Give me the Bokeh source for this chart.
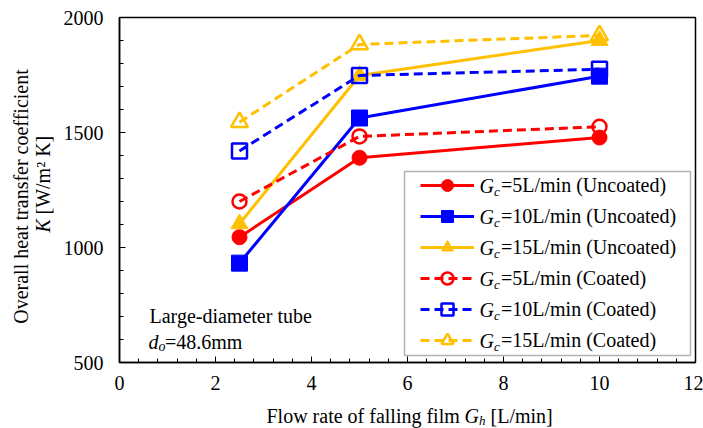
import math
from bokeh.plotting import figure
from bokeh.layouts import row, column
from bokeh.models import (Legend, LegendItem, Label, BoxAnnotation,
                          SingleIntervalTicker, ColumnDataSource)
from bokeh.embed import file_html
from bokeh.resources import INLINE

# ---- data ----
flow_rate = [2.5, 5, 10]
unc_5 = [1045, 1390, 1478]
unc_10 = [932, 1563, 1745]
unc_15 = [1103, 1748, 1900]
coat_5 = [1200, 1483, 1525]
coat_10 = [1420, 1748, 1775]
coat_15 = [1545, 1883, 1922]
legend_texts = ["=5L/min (Uncoated)", "=10L/min (Uncoated)", "=15L/min (Uncoated)",
                "=5L/min (Coated)", "=10L/min (Coated)", "=15L/min (Coated)"]

FONT = "Liberation Serif"
RED, BLUE, YEL = "#FF0000", "#0000FF", "#FFC000"

YL_W = 60          # width of the y-label strip
P_W, P_H = 643, 400
XL_H = 28
# frame in full-canvas coordinates: left 118, right 695, top 17, bottom 362

p = figure(width=P_W, height=P_H, x_range=(0, 12), y_range=(500, 2000),
           output_backend="svg", toolbar_location=None,
           min_border_left=118 - YL_W, min_border_right=8, min_border_top=17,
           min_border_bottom=P_H - 362)
p.background_fill_color = "white"
p.border_fill_color = "white"
p.outline_line_color = "black"
p.outline_line_width = 1.5
p.xgrid.visible = False
p.ygrid.visible = False

p.xaxis.ticker = SingleIntervalTicker(interval=2, num_minor_ticks=5)
p.yaxis.ticker = SingleIntervalTicker(interval=500, num_minor_ticks=5)
for ax in (p.xaxis[0], p.yaxis[0]):
    ax.axis_line_color = "black"
    ax.axis_line_width = 1.5
    ax.major_tick_in = 6
    ax.major_tick_out = 0
    ax.minor_tick_in = 4
    ax.minor_tick_out = 0
    ax.major_tick_line_color = "black"
    ax.minor_tick_line_color = "black"
    ax.major_label_text_font = FONT
    ax.major_label_text_font_size = "20px"
    ax.major_label_text_color = "black"
p.xaxis.major_label_standoff = 13
p.yaxis.major_label_standoff = 16

src = ColumnDataSource(dict(x=flow_rate, u5=unc_5, u10=unc_10, u15=unc_15,
                            c5=coat_5, c10=coat_10, c15=coat_15))

series = [
    ("u5", RED, "circle", 15, True),
    ("u10", BLUE, "square", 16, True),
    ("u15", YEL, "triangle", 17, True),
    ("c5", RED, "circle", 14, False),
    ("c10", BLUE, "square", 15, False),
    ("c15", YEL, "triangle", 17, False),
]
items = []
for (col, color, marker, size, filled), text in zip(series, legend_texts):
    dash = "solid" if filled else "9 5"
    lr = p.line("x", col, source=src, line_color=color, line_width=3, line_dash=dash)
    if filled:
        mr = p.scatter("x", col, source=src, marker=marker, size=size,
                       fill_color=color, line_color=color, line_width=1)
    else:
        mr = p.scatter("x", col, source=src, marker=marker, size=size,
                       fill_alpha=0, line_color=color, line_width=2.5)
    items.append(LegendItem(label=text, renderers=[lr, mr]))

legend = Legend(items=items, location=(301, 7), padding=0, spacing=1,
                glyph_width=54, glyph_height=30, label_height=30,
                label_standoff=27, label_text_font=FONT,
                label_text_font_size="20px", label_text_color="black",
                border_line_alpha=0, background_fill_alpha=0,
                margin=0)
p.add_layout(legend, "center")

# legend frame
p.add_layout(BoxAnnotation(left=285, right=571, bottom=7, top=191,
                           left_units="screen", right_units="screen",
                           bottom_units="screen", top_units="screen",
                           fill_alpha=0, line_color="black", line_width=1.5,
                           level="overlay"))


def lab(fig, left, bottom, x, y, text, size="20px", style="normal", align="left",
        baseline="alphabetic", angle=0):
    """x, y given in full-canvas pixels; left/bottom = fig frame origin in canvas."""
    fig.add_layout(Label(x=x - left, y=bottom - y, x_units="screen", y_units="screen",
                         text=text, text_font=FONT, text_font_size=size,
                         text_font_style=style, text_align=align,
                         text_baseline=baseline, angle=angle, text_color="black"))


# G_c prefixes in legend
row_centers = [185 + 31 * i for i in range(6)]
for rc in row_centers:
    lab(p, 118, 362, 478, rc, "G", style="italic", baseline="middle")
    lab(p, 118, 362, 492.5, rc + 6, "c", size="13px", style="italic", baseline="middle")

# annotation inside the frame
lab(p, 118, 362, 148, 315, "Large-diameter tube", size="20px")
lab(p, 118, 362, 147, 341, "d", size="20px", style="italic")
lab(p, 118, 362, 157, 346, "o", size="14px", style="italic")
lab(p, 118, 362, 163.5, 341, "=48.6mm", size="20px")


def strip(w, h, left=0, right=0):
    f = figure(width=w, height=h, x_range=(0, 1), y_range=(0, 1),
               output_backend="svg", toolbar_location=None,
               x_axis_location=None, y_axis_location=None, min_border=0,
               min_border_left=left, min_border_right=right)
    f.grid.visible = False
    f.outline_line_color = None
    f.background_fill_color = "white"
    f.border_fill_color = "white"
    return f


# x axis title strip (frame from canvas x 118, bottom at canvas y 428)
xl = strip(P_W, XL_H, left=118 - YL_W, right=8)
XB = 428
lab(xl, 118, XB, 265, 415, "Flow rate of falling film")
lab(xl, 118, XB, 463, 415, "G", style="italic")
lab(xl, 118, XB, 477.5, 420, "h", size="13px", style="italic")
lab(xl, 118, XB, 489, 415, "[L/min]")

# y axis title strip (canvas x 0..60, y 0..428)
yl = strip(YL_W, 428)
lab(yl, 0, 428, 20, 196, "Overall heat transfer coefficient", align="center",
    baseline="middle", angle=math.pi / 2)
lab(yl, 0, 428, 42, 232, "K", style="italic", align="left", baseline="middle",
    angle=math.pi / 2)
lab(yl, 0, 428, 42, 214, "[W/m² K]", align="left", baseline="middle",
    angle=math.pi / 2)

layout = row(yl, column(p, xl, spacing=0), spacing=0)
open("out.html", "w").write(file_html(layout, INLINE))
